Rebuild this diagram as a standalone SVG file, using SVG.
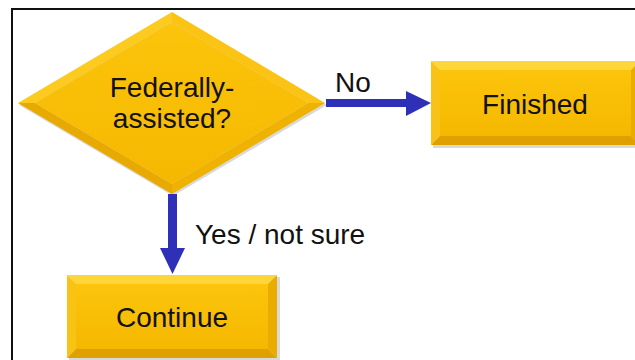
<svg xmlns="http://www.w3.org/2000/svg" width="635" height="360" viewBox="0 0 635 360">
<defs>
<style>
.lbl{font-family:"Liberation Sans",Arial,sans-serif;font-size:28px;fill:#111;}
.face{fill:url(#gface);}
.bt{fill:#FFD63A;}
.bl{fill:#F9C316;}
.br{fill:#EBAC00;}
.bb{fill:#DFA000;}
.dt{fill:#FDCB20;}
.dl{fill:#FBC414;}
.dr{fill:#EFB200;}
.db{fill:#E8A900;}
.sh{fill:#000;opacity:0.15;}
.conn{fill:#2E30B8;}
</style>
<linearGradient id="gface" x1="0" y1="0" x2="0" y2="1">
<stop offset="0" stop-color="#FCC40C"/>
<stop offset="1" stop-color="#F5B800"/>
</linearGradient>
</defs>
<rect x="0" y="0" width="635" height="360" fill="#fff"/>
<path d="M12 360 V9 H635" fill="none" stroke="#111" stroke-width="2"/>

<g id="decision">
<polygon class="sh" points="19,105 173,14 327,105 173,196"/>
<polygon class="dt" points="18,103 172,12 172,22 35,103"/>
<polygon class="dl" points="172,12 325,103 308,103 172,22"/>
<polygon class="dr" points="325,103 172,194 172,184 308,103"/>
<polygon class="db" points="172,194 18,103 35,103 172,184"/>
<polygon class="face" points="35,103 172,22 308,103 172,184"/>
<text class="lbl" x="172" y="97" text-anchor="middle">Federally-</text>
<text class="lbl" x="172" y="128" text-anchor="middle">assisted?</text>
</g>

<g id="finished">
<rect class="sh" x="433" y="63" width="210" height="85"/>
<polygon class="bt" points="431,61 640,61 631,70 440,70"/>
<polygon class="bl" points="431,61 440,70 440,136 431,145"/>
<polygon class="br" points="640,61 640,145 631,136 631,70"/>
<polygon class="bb" points="431,145 440,136 631,136 640,145"/>
<rect class="face" x="440" y="70" width="191" height="66"/>
<text class="lbl" x="535" y="114" text-anchor="middle">Finished</text>
</g>

<g id="continue">
<rect class="sh" x="69" y="277" width="211" height="84"/>
<polygon class="bt" points="67,275 277,275 268,284 76,284"/>
<polygon class="bl" points="67,275 76,284 76,349 67,358"/>
<polygon class="br" points="277,275 277,358 268,349 268,284"/>
<polygon class="bb" points="67,358 76,349 268,349 277,358"/>
<rect class="face" x="76" y="284" width="192" height="65"/>
<text class="lbl" x="172" y="327" text-anchor="middle">Continue</text>
</g>

<g id="connectors">
<polygon class="conn" points="326,99 406,99 406,91 431,103 406,116 406,107 326,107"/>
<polygon class="conn" points="168,194 177,194 177,248 185,248 172.5,274 160,248 168,248"/>
<text class="lbl" x="335" y="92">No</text>
<text class="lbl" x="195" y="244">Yes / not sure</text>
</g>
</svg>
